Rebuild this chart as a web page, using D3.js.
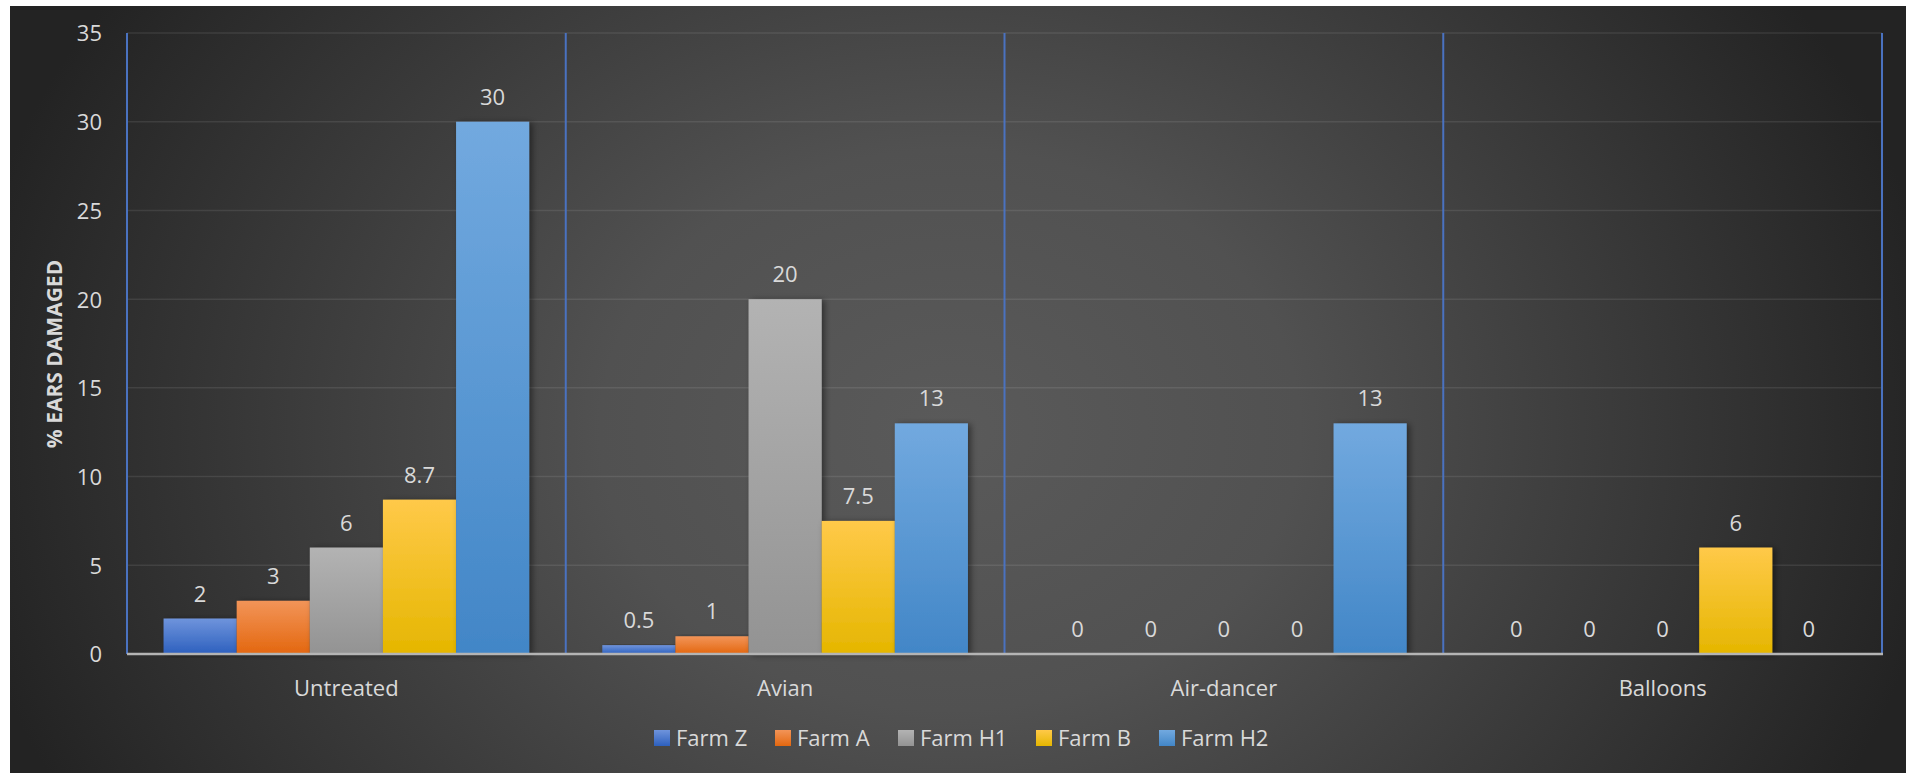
<!DOCTYPE html>
<html><head><meta charset="utf-8">
<script src="https://cdn.jsdelivr.net/npm/d3@7"></script>
<style>html,body{margin:0;padding:0;background:#fff;}svg{display:block;}</style>
</head><body>
<script>
const categories = ["Untreated", "Avian", "Air-dancer", "Balloons"];
const seriesNames = ["Farm Z", "Farm A", "Farm H1", "Farm B", "Farm H2"];
const farmZ  = [2, 0.5, 0, 0];
const farmA  = [3, 1, 0, 0];
const farmH1 = [6, 20, 0, 0];
const farmB  = [8.7, 7.5, 0, 6];
const farmH2 = [30, 13, 13, 0];
const yTicks = [0, 5, 10, 15, 20, 25, 30, 35];
const yTitle = "% EARS DAMAGED";

const seriesValues = [farmZ, farmA, farmH1, farmB, farmH2];
const colors = [
  ["#6f94dc", "#2d60be"],
  ["#f29458", "#e3670f"],
  ["#b3b3b3", "#939393"],
  ["#ffc949", "#e5b600"],
  ["#72a9df", "#4286c7"]
];

const W = 1913, H = 773;
const plot = {left: 127, right: 1882, top: 33, bottom: 654};
const svg = d3.select("body").append("svg").attr("width", W).attr("height", H);
const defs = svg.append("defs");

const bg = defs.append("radialGradient").attr("id", "bg")
  .attr("gradientUnits", "userSpaceOnUse")
  .attr("cx", 950).attr("cy", 430).attr("r", 1000)
  .attr("gradientTransform", "translate(950,430) scale(1,0.8) translate(-950,-430)");
bg.append("stop").attr("offset", 0).attr("stop-color", "#5a5a5a");
bg.append("stop").attr("offset", 0.35).attr("stop-color", "#515151");
bg.append("stop").attr("offset", 1).attr("stop-color", "#232323");

colors.forEach((c, i) => {
  const g = defs.append("linearGradient").attr("id", "g" + i)
    .attr("x1", 0).attr("y1", 0).attr("x2", 0).attr("y2", 1);
  g.append("stop").attr("offset", 0).attr("stop-color", c[0]);
  g.append("stop").attr("offset", 0.5).attr("stop-color", d3.interpolateRgb(c[0], c[1])(0.5));
  g.append("stop").attr("offset", 1).attr("stop-color", c[1]);
});
const sh = defs.append("filter").attr("id", "shadow").attr("x", "-20%").attr("y", "-10%").attr("width", "150%").attr("height", "120%");
sh.append("feDropShadow").attr("dx", 3).attr("dy", 1).attr("stdDeviation", 3).attr("flood-color", "#000").attr("flood-opacity", 0.45);

svg.append("rect").attr("x", 10).attr("y", 6).attr("width", 1896).attr("height", H - 6).attr("fill", "url(#bg)");

const y = d3.scaleLinear().domain([0, 35]).range([plot.bottom, plot.top]);
const x0 = d3.scaleBand().domain(categories).range([plot.left, plot.right]).padding(0);
const x1 = d3.scaleBand().domain(seriesNames).range([0, x0.bandwidth()]).paddingInner(0).paddingOuter(0.5);

const font = "'Open Sans', 'Noto Sans', sans-serif";
const txt = "#d9d9d9";

// gridlines
svg.append("g").selectAll("line").data(yTicks.filter(d => d > 0)).join("line")
  .attr("x1", plot.left).attr("x2", plot.right)
  .attr("y1", d => y(d)).attr("y2", d => y(d))
  .attr("stroke", "#ffffff").attr("stroke-opacity", 0.09).attr("stroke-width", 1.5);

// y axis labels
const yAxis = d3.axisLeft(y).tickValues(yTicks).tickSize(0).tickPadding(0);
const ya = svg.append("g").attr("transform", `translate(102,0)`).call(yAxis);
ya.select(".domain").remove();
ya.selectAll("text").attr("fill", txt).style("font-family", font).style("font-size", "22px").attr("dy", "0.36em");

// category dividers (blue vertical lines)
const dividers = categories.map(c => x0(c)).concat([plot.right]);
svg.append("g").selectAll("line").data(dividers).join("line")
  .attr("x1", d => d).attr("x2", d => d)
  .attr("y1", plot.top).attr("y2", plot.bottom)
  .attr("stroke", "#4a72c0").attr("stroke-width", 2);

// bars
const barData = [];
categories.forEach((c, ci) => seriesNames.forEach((s, si) => barData.push({c, s, si, v: seriesValues[si][ci]})));
svg.append("g").selectAll("rect").data(barData.filter(d => d.v > 0)).join("rect")
  .attr("x", d => x0(d.c) + x1(d.s))
  .attr("y", d => y(d.v))
  .attr("width", x1.bandwidth())
  .attr("height", d => y(0) - y(d.v))
  .attr("fill", d => `url(#g${d.si})`)
  .attr("filter", "url(#shadow)");

// x axis line
svg.append("line").attr("x1", plot.left).attr("x2", plot.right + 1)
  .attr("y1", plot.bottom).attr("y2", plot.bottom)
  .attr("stroke", "#b4b4b4").attr("stroke-width", 2.5);

// data labels
svg.append("g").selectAll("text").data(barData).join("text")
  .attr("x", d => x0(d.c) + x1(d.s) + x1.bandwidth() / 2)
  .attr("y", d => y(d.v) - 17)
  .attr("text-anchor", "middle")
  .attr("fill", txt).style("font-family", font).style("font-size", "22px")
  .text(d => d.v);

// category labels
const xAxis = d3.axisBottom(x0).tickSize(0).tickPadding(0);
const xa = svg.append("g").attr("transform", `translate(0,${plot.bottom})`).call(xAxis);
xa.select(".domain").remove();
xa.selectAll("text").attr("fill", txt).style("font-family", font).style("font-size", "22px")
  .attr("y", 42).attr("dy", 0);

// y title
svg.append("text").attr("transform", "translate(62,354) rotate(-90)")
  .attr("text-anchor", "middle").attr("fill", txt)
  .style("font-family", font).style("font-size", "21px").style("font-weight", "bold")
  .text(yTitle);

// legend
const legX = [654, 775, 898, 1036, 1159];
const leg = svg.append("g").selectAll("g").data(seriesNames).join("g")
  .attr("transform", (d, i) => `translate(${legX[i]},738)`);
leg.append("rect").attr("x", 0).attr("y", -8).attr("width", 16).attr("height", 16)
  .attr("fill", (d, i) => `url(#g${i})`);
leg.append("text").attr("x", 22).attr("y", 0).attr("dy", "0.36em")
  .attr("fill", txt).style("font-family", font).style("font-size", "22px")
  .text(d => d);
</script>
</body></html>
